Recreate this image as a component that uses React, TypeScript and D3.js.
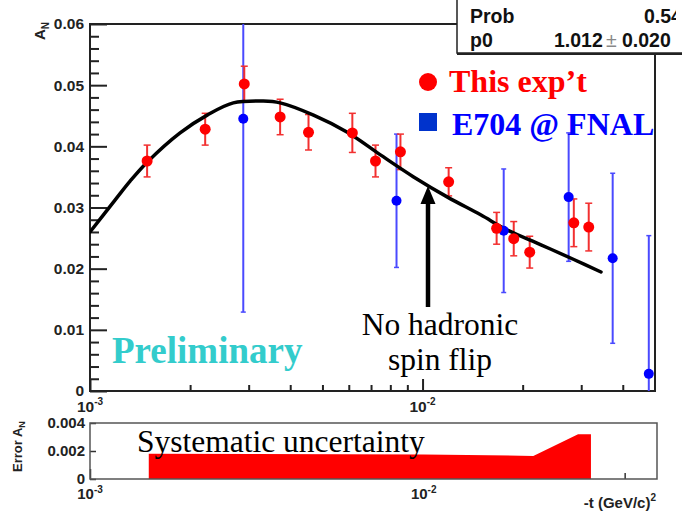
import React, { useEffect, useRef } from 'react';
import { select, scaleLog, scaleLinear, axisLeft, axisBottom, line, curveCatmullRom, curveLinear } from 'd3';

// This exp't (red)
const redT = [1.485e-3, 2.22e-3, 2.91e-3, 3.73e-3, 4.54e-3, 6.15e-3, 7.22e-3, 8.58e-3, 1.198e-2, 1.67e-2, 1.88e-2, 2.1e-2, 2.85e-2, 3.16e-2];
const redA = [0.0376, 0.0428, 0.0502, 0.0448, 0.0423, 0.0422, 0.0376, 0.0391, 0.0342, 0.0266, 0.0249, 0.0227, 0.0275, 0.0268];
const redErr = [0.0026, 0.0026, 0.0029, 0.0029, 0.0029, 0.0032, 0.0026, 0.0029, 0.0023, 0.0026, 0.0028, 0.0026, 0.0039, 0.0039];

// E704 @ FNAL (blue)
const blueT = [2.89e-3, 8.35e-3, 1.754e-2, 2.75e-2, 3.73e-2, 4.79e-2];
const blueA = [0.0445, 0.0311, 0.0262, 0.0317, 0.0217, 0.0028];
const blueErr = [0.0316, 0.0109, 0.0101, 0.0105, 0.0139, 0.0226];

// fit curve
const fitT = [1e-3, 1.189e-3, 1.32e-3, 1.485e-3, 1.866e-3, 2.251e-3, 2.697e-3, 3.32e-3, 3.73e-3, 4.7e-3, 5.94e-3, 7.47e-3, 9.4e-3, 1.189e-2, 1.495e-2, 1.8e-2, 2.27e-2, 2.85e-2, 3.44e-2];
const fitA = [0.026, 0.0312, 0.0343, 0.0374, 0.0422, 0.0451, 0.0471, 0.0474, 0.0471, 0.0451, 0.0423, 0.0386, 0.035, 0.0317, 0.0288, 0.0263, 0.0239, 0.0215, 0.01945];

// systematic uncertainty band
const sysT = [1.5e-3, 1.5e-3, 1e-2, 2.13e-2, 2.9e-2, 3.17e-2, 3.17e-2];
const sysA = [0, 0.0018, 0.00175, 0.00165, 0.0032, 0.0032, 0];

const majorX = [1e-3, 1e-2];
const majorXExp = ['-3', '-2'];
const minorX = [2e-3, 3e-3, 4e-3, 5e-3, 6e-3, 7e-3, 8e-3, 9e-3, 2e-2, 3e-2, 4e-2];
const yMainTicks = [0, 0.01, 0.02, 0.03, 0.04, 0.05, 0.06];
const yMainLabels = ['0', '0.01', '0.02', '0.03', '0.04', '0.05', '0.06'];
const yMainMinor = [0.002, 0.004, 0.006, 0.008, 0.012, 0.014, 0.016, 0.018, 0.022, 0.024, 0.026, 0.028, 0.032, 0.034, 0.036, 0.038, 0.042, 0.044, 0.046, 0.048, 0.052, 0.054, 0.056, 0.058];
const yErrTicks = [0, 0.002, 0.004];
const yErrLabels = ['0', '0.002', '0.004'];

const SANS = 'Arial, "Liberation Sans", Helvetica, sans-serif';
const SERIF = '"Times New Roman", "Liberation Serif", Times, serif';

const App = () => {
  const svgRef = useRef(null);

  useEffect(() => {
    const svg = select(svgRef.current);
    svg.selectAll('*').remove();

    const x = scaleLog().domain([1e-3, 5e-2]).range([90, 655]);
    const y = scaleLinear().domain([0, 0.06]).range([391, 24]);
    const xb = scaleLog().domain([1e-3, 5e-2]).range([90, 657]);
    const yb = scaleLinear().domain([0, 0.004]).range([479, 423]);

    svg.append('rect').attr('width', 682).attr('height', 513).attr('fill', '#fff');

    svg.append('clipPath').attr('id', 'mainClip')
      .append('rect').attr('x', 90).attr('y', 24).attr('width', 565).attr('height', 367);
    svg.append('clipPath').attr('id', 'statClip')
      .append('rect').attr('x', 440).attr('y', 0).attr('width', 236).attr('height', 60);

    // main y axis
    const gy = svg.append('g').attr('transform', 'translate(90,0)');
    gy.append('g')
      .call(axisLeft(y).tickValues(yMainMinor).tickSize(-9).tickFormat(() => ''));
    gy.append('g')
      .call(axisLeft(y).tickValues(yMainTicks).tickSize(-17).tickPadding(6)
        .tickFormat((d, i) => yMainLabels[i]));
    gy.selectAll('.domain').remove();
    gy.selectAll('line').attr('stroke', '#222').attr('stroke-width', 2);
    gy.selectAll('text').attr('font-family', SANS).attr('font-weight', 'bold')
      .attr('font-size', 15.5).attr('fill', '#222');

    // main x axis
    const gx = svg.append('g').attr('transform', 'translate(0,391)');
    gx.append('g').call(axisBottom(x).tickValues(minorX).tickSize(-6).tickFormat(() => ''));
    gx.append('g').call(axisBottom(x).tickValues(majorX).tickSize(-12).tickFormat(() => ''));
    gx.selectAll('.domain').remove();
    gx.selectAll('line').attr('stroke', '#222').attr('stroke-width', 2);

    const xl = svg.append('g')
      .selectAll('text')
      .data(majorX)
      .join('text')
      .attr('x', d => x(d))
      .attr('y', 412)
      .attr('text-anchor', 'middle')
      .attr('font-family', SANS)
      .attr('font-weight', 'bold')
      .attr('font-size', 15.5)
      .attr('fill', '#222');
    xl.append('tspan').text('10');
    xl.append('tspan').attr('dy', -7).attr('font-size', 10).text((d, i) => majorXExp[i]);

    // A_N title
    const an = svg.append('text')
      .attr('transform', 'translate(45,22) rotate(-90)')
      .attr('text-anchor', 'end')
      .attr('font-family', SANS).attr('font-weight', 'bold').attr('font-size', 15).attr('fill', '#222');
    an.append('tspan').text('A');
    an.append('tspan').attr('dy', 4).attr('font-size', 10).text('N');

    // frame
    svg.append('path')
      .attr('d', 'M457,24 H90 V391 H655 V54')
      .attr('fill', 'none').attr('stroke', '#222').attr('stroke-width', 2);

    const plot = svg.append('g').attr('clip-path', 'url(#mainClip)');

    // blue error bars
    const blue = blueT.map((t, i) => ({ t, a: blueA[i], e: blueErr[i] }));
    plot.selectAll('.blue-err')
      .data(blue)
      .join('line')
      .attr('class', 'blue-err')
      .attr('x1', d => x(d.t)).attr('x2', d => x(d.t))
      .attr('y1', d => y(d.a - d.e)).attr('y2', d => y(d.a + d.e))
      .attr('stroke', '#4a4aff').attr('stroke-width', 2);
    plot.selectAll('.blue-cap')
      .data(blue.flatMap(d => [d.a - d.e, d.a + d.e].map(v => ({ t: d.t, v }))))
      .join('line')
      .attr('class', 'blue-cap')
      .attr('x1', d => x(d.t) - 2.5).attr('x2', d => x(d.t) + 2.5)
      .attr('y1', d => y(d.v)).attr('y2', d => y(d.v))
      .attr('stroke', '#4a4aff').attr('stroke-width', 1.5);

    // red error bars
    const red = redT.map((t, i) => ({ t, a: redA[i], e: redErr[i] }));
    plot.selectAll('.red-err')
      .data(red)
      .join('line')
      .attr('class', 'red-err')
      .attr('x1', d => x(d.t)).attr('x2', d => x(d.t))
      .attr('y1', d => y(d.a - d.e)).attr('y2', d => y(d.a + d.e))
      .attr('stroke', '#f23030').attr('stroke-width', 2);
    plot.selectAll('.red-cap')
      .data(red.flatMap(d => [d.a - d.e, d.a + d.e].map(v => ({ t: d.t, v }))))
      .join('line')
      .attr('class', 'red-cap')
      .attr('x1', d => x(d.t) - 3.5).attr('x2', d => x(d.t) + 3.5)
      .attr('y1', d => y(d.v)).attr('y2', d => y(d.v))
      .attr('stroke', '#f23030').attr('stroke-width', 1.5);

    // fit curve
    const fitLine = line().x(d => x(d[0])).y(d => y(d[1])).curve(curveCatmullRom);
    plot.append('path')
      .attr('d', fitLine(fitT.map((t, i) => [t, fitA[i]])))
      .attr('fill', 'none').attr('stroke', '#000').attr('stroke-width', 3.5)
      .attr('stroke-linecap', 'round');

    plot.selectAll('.blue-dot')
      .data(blue)
      .join('circle')
      .attr('class', 'blue-dot')
      .attr('cx', d => x(d.t)).attr('cy', d => y(d.a)).attr('r', 5)
      .attr('fill', '#0000ff');
    plot.selectAll('.red-dot')
      .data(red)
      .join('circle')
      .attr('class', 'red-dot')
      .attr('cx', d => x(d.t)).attr('cy', d => y(d.a)).attr('r', 5.5)
      .attr('fill', '#ff0000');

    // arrow + annotation
    svg.append('line')
      .attr('x1', 428).attr('x2', 428).attr('y1', 307).attr('y2', 200)
      .attr('stroke', '#000').attr('stroke-width', 4.5);
    svg.append('path').attr('d', 'M428,186 L420.5,204 L435.5,204 Z').attr('fill', '#000');
    svg.append('text').attr('x', 440).attr('y', 335).attr('text-anchor', 'middle')
      .attr('font-family', SERIF).attr('font-size', 31.5).attr('fill', '#000').text('No hadronic');
    svg.append('text').attr('x', 440).attr('y', 370).attr('text-anchor', 'middle')
      .attr('font-family', SERIF).attr('font-size', 31.5).attr('fill', '#000').text('spin flip');

    svg.append('text').attr('x', 112).attr('y', 363)
      .attr('font-family', SERIF).attr('font-weight', 'bold').attr('font-size', 37)
      .attr('fill', '#33cccc').text('Preliminary');

    // legend
    svg.append('circle').attr('cx', 428).attr('cy', 82).attr('r', 9).attr('fill', '#ff0000');
    svg.append('text').attr('x', 449).attr('y', 92)
      .attr('font-family', SERIF).attr('font-weight', 'bold').attr('font-size', 32)
      .attr('fill', '#ff0000').text('This exp\u2019t');
    svg.append('rect').attr('x', 419).attr('y', 113).attr('width', 18).attr('height', 18).attr('fill', '#0033cc');
    svg.append('text').attr('x', 452).attr('y', 135)
      .attr('font-family', SERIF).attr('font-weight', 'bold').attr('font-size', 32)
      .attr('fill', '#0000ff').text('E704 @ FNAL');

    // stats box (cut at the right edge like the reference)
    svg.append('rect').attr('x', 457).attr('y', -2).attr('width', 240).attr('height', 55)
      .attr('fill', '#fff').attr('stroke', '#222').attr('stroke-width', 1.5);
    svg.append('line').attr('x1', 457).attr('x2', 682).attr('y1', 54).attr('y2', 54)
      .attr('stroke', '#222').attr('stroke-width', 2);
    const stats = svg.append('g').attr('clip-path', 'url(#statClip)');
    const statStyle = sel => sel.attr('font-family', SANS).attr('font-weight', 'bold')
      .attr('font-size', 19.5).attr('fill', '#111');
    stats.append('text').attr('x', 470).attr('y', 23).text('Prob').call(statStyle);
    stats.append('text').attr('x', 644).attr('y', 23).text('0.54').call(statStyle);
    stats.append('text').attr('x', 470).attr('y', 47).text('p0').call(statStyle);
    stats.append('text').attr('x', 554).attr('y', 47).text('1.012').call(statStyle);
    stats.append('text').attr('x', 606).attr('y', 47).text('\u00b1').call(statStyle)
      .attr('fill', '#888').attr('font-weight', 'normal');
    stats.append('text').attr('x', 622).attr('y', 47).text('0.020').call(statStyle);

    // bottom pad covers the lower half of the main x labels
    svg.append('rect').attr('x', 0).attr('y', 413).attr('width', 682).attr('height', 100).attr('fill', '#fff');

    const gyb = svg.append('g').attr('transform', 'translate(90,0)');
    gyb.call(axisLeft(yb).tickValues(yErrTicks).tickSize(-6).tickPadding(5)
      .tickFormat((d, i) => yErrLabels[i]));
    gyb.selectAll('.domain').remove();
    gyb.selectAll('line').attr('stroke', '#333').attr('stroke-width', 1.5);
    gyb.selectAll('text').attr('font-family', SANS).attr('font-weight', 'bold')
      .attr('font-size', 15).attr('fill', '#222');

    const gxb = svg.append('g').attr('transform', 'translate(0,479)');
    gxb.append('g').call(axisBottom(xb).tickValues(minorX).tickSize(-6).tickFormat(() => ''));
    gxb.append('g').call(axisBottom(xb).tickValues(majorX).tickSize(-10).tickFormat(() => ''));
    gxb.selectAll('.domain').remove();
    gxb.selectAll('line').attr('stroke', '#333').attr('stroke-width', 1.5);

    // systematic band, over the ticks
    const sysLine = line().x(d => xb(d[0])).y(d => yb(d[1])).curve(curveLinear);
    svg.append('path')
      .attr('d', sysLine(sysT.map((t, i) => [t, sysA[i]])) + 'Z')
      .attr('fill', '#ff0000');

    svg.append('rect').attr('x', 90).attr('y', 423).attr('width', 567).attr('height', 56)
      .attr('fill', 'none').attr('stroke', '#555').attr('stroke-width', 1.5);

    const xlb = svg.append('g')
      .selectAll('text')
      .data(majorX)
      .join('text')
      .attr('x', d => xb(d))
      .attr('y', 499)
      .attr('text-anchor', 'middle')
      .attr('font-family', SANS)
      .attr('font-weight', 'bold')
      .attr('font-size', 15)
      .attr('fill', '#222');
    xlb.append('tspan').text('10');
    xlb.append('tspan').attr('dy', -6).attr('font-size', 10).text((d, i) => majorXExp[i]);

    const tl = svg.append('text').attr('x', 656).attr('y', 508).attr('text-anchor', 'end')
      .attr('font-family', SANS).attr('font-weight', 'bold').attr('font-size', 15).attr('fill', '#222');
    tl.append('tspan').text('-t (GeV/c)');
    tl.append('tspan').attr('dy', -7).attr('font-size', 10).text('2');

    const el = svg.append('text')
      .attr('transform', 'translate(22,472) rotate(-90)')
      .attr('font-family', SANS).attr('font-weight', 'bold').attr('font-size', 13).attr('fill', '#222');
    el.append('tspan').text('Error A');
    el.append('tspan').attr('dy', 3).attr('font-size', 9).text('N');

    svg.append('text').attr('x', 137).attr('y', 452)
      .attr('font-family', SERIF).attr('font-size', 31.5).attr('fill', '#000')
      .text('Systematic uncertainty');
  }, []);

  return (
    <div style={{ position: 'absolute', left: 0, top: 0 }}>
      <svg ref={svgRef} width={682} height={513} />
    </div>
  );
};

export default App;
